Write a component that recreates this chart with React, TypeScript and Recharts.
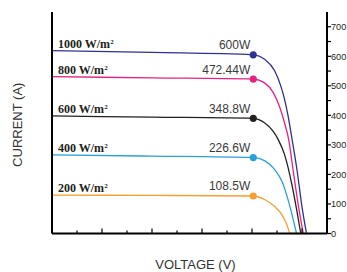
import React from "react";
import { ComposedChart, Line, XAxis, YAxis } from "recharts";

// irradiance levels, top to bottom
const irradiance = ["1000", "800", "600", "400", "200"];
const maxPower = ["600W", "472.44W", "348.8W", "226.6W", "108.5W"];
const mppIndex = 2;

// I-V curves (voltage in tick units, current on the 0-700 scale)
const v1000 = [0, 4, 8.05, 8.5, 8.9, 9.15, 9.3, 9.45, 9.6, 9.8, 10.0, 10.18];
const i1000 = [619, 613, 605, 590, 552, 500, 455, 395, 320, 215, 90, 0];
const v800 = [0, 4, 8.05, 8.5, 8.85, 9.1, 9.3, 9.47, 9.66, 9.86, 10.05];
const i800 = [531, 527, 523, 510, 477, 430, 375, 317, 205, 92, 0];
const v600 = [0, 4, 8.05, 8.5, 8.85, 9.05, 9.3, 9.6, 9.8, 9.95];
const i600 = [398, 394, 390, 375, 346, 318, 268, 164, 74, 0];
const v400 = [0, 4, 8.05, 8.5, 8.9, 9.2, 9.45, 9.7, 9.78];
const i400 = [266, 262, 257, 247, 217, 176, 112, 29, 0];
const v200 = [0, 4, 8.05, 8.5, 8.9, 9.2, 9.4, 9.53, 10.2];
const i200 = [130, 129, 127, 115, 92, 63, 29, 0, 0];

const xTicks = [1, 2, 3, 4, 5, 6, 7, 8, 9, 10];
const yTicks = [0, 50, 100, 150, 200, 250, 300, 350, 400, 450, 500, 550, 600, 650, 700];

const colors = ["#2e3192", "#e5227f", "#231f20", "#2b9fdc", "#f5a030"];

const curves = [
  [v1000, i1000],
  [v800, i800],
  [v600, i600],
  [v400, i400],
  [v200, i200],
].map(([vs, is]) => vs.map((v, k) => ({ v, i: is[k] })));

const BottomTick = (p: any) => {
  const { x, y, payload } = p;
  const len = payload.value % 2 === 0 ? 5 : 3;
  return <line x1={x} x2={x} y1={y} y2={y - len} stroke="#000" strokeWidth={1.2} />;
};

const RightTick = (p: any) => {
  const { x, y, payload } = p;
  const v = payload.value;
  return (
    <g>
      <line x1={x} x2={x + 4} y1={y} y2={y} stroke="#000" strokeWidth={1.2} />
      {v % 100 === 0 && (
        <text x={x + 4} y={y + 3.3} fontSize={9.2} fontFamily="Liberation Sans, Arial" fill="#231f20">
          {v}
        </text>
      )}
    </g>
  );
};

const CurrentTitle = (p: any) => {
  const vb = p.viewBox ?? { x: 0, y: 12, width: 52, height: 221.5 };
  const cx = vb.x + 17;
  const cy = vb.y + vb.height / 2 + 2;
  return (
    <text x={cx} y={cy} transform={`rotate(-90 ${cx} ${cy})`} textAnchor="middle" dominantBaseline="central"
      fontSize={13} fontFamily="Liberation Sans, Arial" fill="#333">
      CURRENT (A)
    </text>
  );
};

const VoltageTitle = (p: any) => {
  const vb = p.viewBox ?? { x: 52, y: 233.5, width: 275, height: 38.5 };
  return (
    <text x={vb.x + vb.width / 2 + 6} y={vb.y + vb.height - 3} textAnchor="middle"
      fontSize={13} fontFamily="Liberation Sans, Arial" fill="#333">
      VOLTAGE (V)
    </text>
  );
};

const makeDot = (s: number) => (p: any) => {
  const { cx, cy, index } = p;
  if (index === 0) {
    return (
      <text key={`l${s}`} x={cx + 6} y={cy - 3} fontSize={12} fontWeight="bold"
        fontFamily="Liberation Serif, Times New Roman" fill="#231f20">
        {irradiance[s]} W/m<tspan dy={-4} fontSize={7}>2</tspan>
      </text>
    );
  }
  if (index === mppIndex) {
    return (
      <g key={`m${s}`}>
        <circle cx={cx} cy={cy} r={3.6} fill={colors[s]} />
        <text x={cx - 3} y={cy - 5.5} textAnchor="end" fontSize={12}
          fontFamily="Liberation Sans, Arial" fill="#3a3a3a">
          {maxPower[s]}
        </text>
      </g>
    );
  }
  return <g key={`n${s}-${index}`} />;
};

const axisLine = { stroke: "#000", strokeWidth: 2 };

export default function App() {
  return (
    <div style={{ position: "absolute", left: 0, top: 0, width: 347, height: 272, background: "#fff" }}>
      <ComposedChart width={347} height={272} margin={{ top: 12, right: 0, bottom: 0, left: 0 }}>
        <XAxis xAxisId="b" type="number" dataKey="v" domain={[0, 11]} ticks={xTicks} interval={0}
          orientation="bottom" height={38.5} tickSize={0} tickMargin={0} tickLine={false}
          axisLine={axisLine} tick={BottomTick} label={{ content: VoltageTitle }} />
        <XAxis xAxisId="t" type="number" dataKey="v" domain={[0, 11]} orientation="top" height={0}
          tick={false} tickLine={false} axisLine={axisLine} />
        <YAxis yAxisId="l" type="number" domain={[0, 750]} orientation="left" width={52}
          tick={false} tickLine={false} axisLine={axisLine} label={{ content: CurrentTitle }} />
        <YAxis yAxisId="r" type="number" domain={[0, 750]} orientation="right" width={20}
          ticks={yTicks} interval={0} tickSize={0} tickMargin={0} tickLine={false}
          axisLine={axisLine} tick={RightTick} />
        {curves.map((d, s) => (
          <Line key={irradiance[s]} xAxisId="b" yAxisId="r" data={d} dataKey="i" type="monotone"
            stroke={colors[s]} strokeWidth={1.3} dot={makeDot(s)} activeDot={false}
            isAnimationActive={false} />
        ))}
      </ComposedChart>
    </div>
  );
}
